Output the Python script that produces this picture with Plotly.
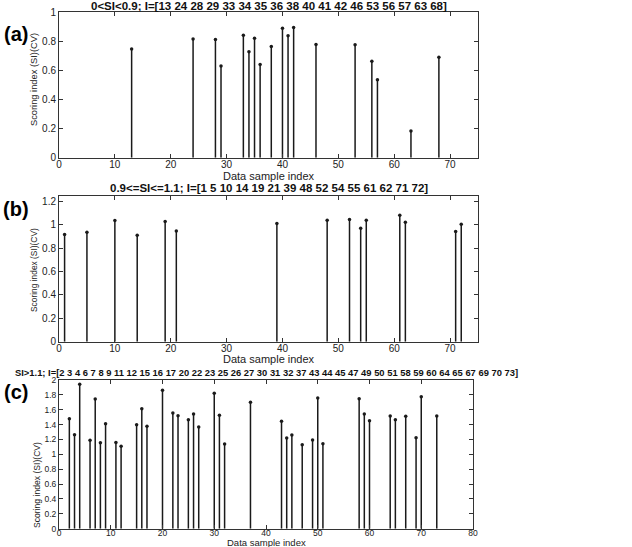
import plotly.graph_objects as go

# ---- data ----
idx_a = [13, 24, 28, 29, 33, 34, 35, 36, 38, 40, 41, 42, 46, 53, 56, 57, 63, 68]
si_a = [0.747, 0.816, 0.813, 0.630, 0.843, 0.729, 0.822, 0.641, 0.765, 0.891,
        0.838, 0.896, 0.779, 0.777, 0.664, 0.536, 0.183, 0.690]

idx_b = [1, 5, 10, 14, 19, 21, 39, 48, 52, 54, 55, 61, 62, 71, 72]
si_b = [0.917, 0.937, 1.037, 0.911, 1.029, 0.948, 1.011, 1.040, 1.046, 0.971,
        1.040, 1.083, 1.023, 0.943, 1.006]

idx_c = [2, 3, 4, 6, 7, 8, 9, 11, 12, 15, 16, 17, 20, 22, 23, 25, 26, 27, 30, 31,
         32, 37, 43, 44, 45, 47, 49, 50, 51, 58, 59, 60, 64, 65, 67, 69, 70, 73]
si_c = [1.480, 1.265, 1.942, 1.188, 1.744, 1.157, 1.413, 1.161, 1.108, 1.399,
        1.614, 1.377, 1.861, 1.556, 1.520, 1.466, 1.543, 1.368, 1.821, 1.525,
        1.139, 1.700, 1.444, 1.220, 1.260, 1.130, 1.193, 1.758, 1.143, 1.749,
        1.543, 1.453, 1.516, 1.466, 1.511, 1.224, 1.776, 1.516]

titles = [
    "0<SI<0.9; I=[" + " ".join(str(i) for i in idx_a) + "]",
    "0.9<=SI<=1.1; I=[" + " ".join(str(i) for i in idx_b) + "]",
    "SI>1.1; I=[" + " ".join(str(i) for i in idx_c) + "]",
]
panel_labels = ["(a)", "(b)", "(c)"]
x_ranges = [[0, 75], [0, 75], [0, 80]]
y_ranges = [[0, 1], [0, 1.25], [0, 2]]
y_dtick = [0.2, 0.2, 0.2]
x_label = "Data sample index"
y_label = "Scoring index (SI)(CV)"

W, H = 632, 547
def px(x): return x / W
def py(y): return 1 - y / H

# pixel boxes (left, right, top, bottom)
boxes = [(59, 478, 12.3, 157.7), (59, 478, 195.7, 341.7), (59, 473, 380, 528.7)]
tick_sizes = [10, 10, 8.5]
label_sizes = [11, 11, 9.5]
title_sizes = [11.5, 11.5, 9.4]
title_y = [-0.5, 181.5, 365.5]   # top of title text box
label_y = [176.5, 359, 542.5]
tick_standoff = [-3, -3, -4]
panel_y = [34, 209, 392]
ylab_x = [34, 34, 37]
ylab_y = [80, 270, 485]
ylab_size = [9.3, 8.4, 8.6]

fig = go.Figure()
datasets = [(idx_a, si_a), (idx_b, si_b), (idx_c, si_c)]
ann = []
for k, (xs, ys) in enumerate(datasets):
    sx = "" if k == 0 else str(k + 1)
    stem_x, stem_y = [], []
    for xv, yv in zip(xs, ys):
        stem_x += [xv, xv, None]
        stem_y += [0, yv, None]
    fig.add_trace(go.Scatter(x=stem_x, y=stem_y, mode="lines",
                             line=dict(color="#1a1a1a", width=1.5),
                             xaxis="x" + sx, yaxis="y" + sx, showlegend=False,
                             hoverinfo="skip"))
    fig.add_trace(go.Scatter(x=xs, y=ys, mode="markers",
                             marker=dict(color="#1a1a1a", size=3.5, symbol="circle"),
                             xaxis="x" + sx, yaxis="y" + sx, showlegend=False))
    l, r, t, b = boxes[k]
    common = dict(showline=True, linecolor="#333333", linewidth=1, mirror="allticks",
                  ticks="inside", ticklen=4, tickcolor="#333333", showgrid=False,
                  zeroline=False, automargin=False,
                  tickfont=dict(family="Liberation Sans, Arial", size=tick_sizes[k], color="#222"))
    fig.update_layout(**{
        "xaxis" + sx: dict(domain=[px(l), px(r)], range=x_ranges[k], dtick=10,
                           anchor="y" + sx, ticklabelstandoff=tick_standoff[k], **common),
        "yaxis" + sx: dict(domain=[py(b), py(t)], range=y_ranges[k], dtick=y_dtick[k],
                           anchor="x" + sx, **common),
    })
    cx = (l + r) / 2
    ann.append(dict(text="<b>" + titles[k] + "</b>", x=px(cx), y=py(title_y[k]), xref="paper",
                    yref="paper", xanchor="center", yanchor="top", showarrow=False,
                    borderpad=0,
                    font=dict(family="Liberation Sans, Arial", size=title_sizes[k], color="#111")))
    ann.append(dict(text=x_label, x=px(cx), y=py(label_y[k]), xref="paper", yref="paper",
                    xanchor="center", yanchor="middle", showarrow=False, borderpad=0,
                    font=dict(family="Liberation Sans, Arial", size=label_sizes[k], color="#222")))
    ann.append(dict(text=y_label, x=px(ylab_x[k]), y=py(ylab_y[k]), xref="paper",
                    yref="paper", xanchor="center", yanchor="middle", textangle=-90,
                    showarrow=False,
                    font=dict(family="Liberation Sans Narrow, Liberation Sans, Arial",
                              size=ylab_size[k], color="#222")))
    ann.append(dict(text="<b>" + panel_labels[k] + "</b>", x=px(16), y=py(panel_y[k]),
                    xref="paper", yref="paper", xanchor="center", yanchor="middle",
                    showarrow=False,
                    font=dict(family="Liberation Sans Narrow, Liberation Sans, Arial",
                              size=20, color="#000")))

fig.update_layout(width=W, height=H, margin=dict(l=0, r=0, t=0, b=0),
                  paper_bgcolor="white", plot_bgcolor="white", annotations=ann)
fig.write_html("out.html", config={"displayModeBar": False},
               post_script="document.body.style.margin='0';document.body.style.padding='0';")
